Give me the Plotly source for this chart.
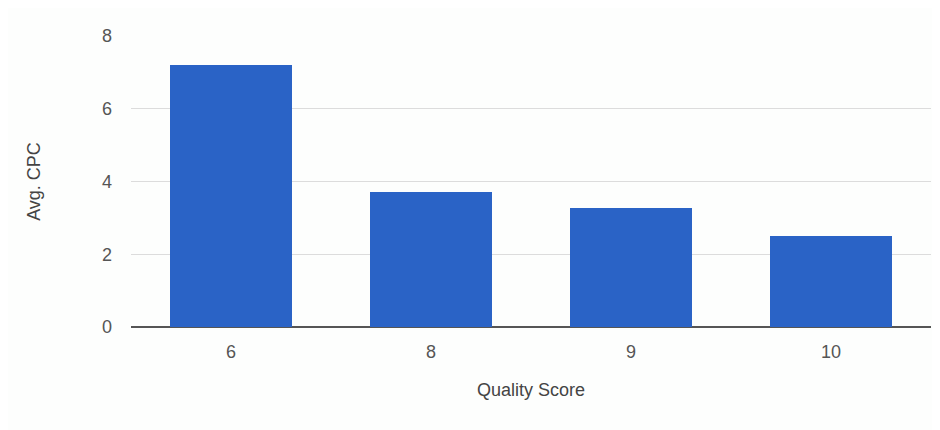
import plotly.graph_objects as go

# data
quality_scores = ["6", "8", "9", "10"]
avg_cpc = [7.2, 3.71, 3.27, 2.5]

trace = go.Bar(
    x=quality_scores,
    y=avg_cpc,
    width=0.61,
    marker={'color': '#2a63c6', 'line': {'width': 0}},
)

# the page body adds 8px, so the figure is a bit smaller than the window
layout = go.Layout(
    width=932,
    height=422,
    margin={'l': 123, 'r': 9, 't': 28, 'b': 103},
    paper_bgcolor='#fdfefd',
    plot_bgcolor='#fdfefd',
    font={'family': 'Liberation Sans, Arial, sans-serif', 'size': 18, 'color': '#555555'},
    showlegend=False,
    xaxis={
        'title': {'text': 'Quality Score', 'standoff': 22,
                  'font': {'size': 18, 'color': '#444444'}},
        'showgrid': False,
        'showline': False,
        'ticks': '',
        'ticklabelstandoff': 12,
    },
    yaxis={
        'title': {'text': 'Avg. CPC', 'standoff': 56,
                  'font': {'size': 18, 'color': '#444444'}},
        'range': [0, 8],
        'tickvals': [0, 2, 4, 6, 8],
        'gridcolor': '#dcdcdc',
        'gridwidth': 1,
        'zeroline': True,
        'zerolinecolor': '#555555',
        'zerolinewidth': 2,
        'ticks': '',
        'ticklabelstandoff': 18,
    },
)

fig = go.Figure(data=[trace], layout=layout)
fig.write_html("out.html")
